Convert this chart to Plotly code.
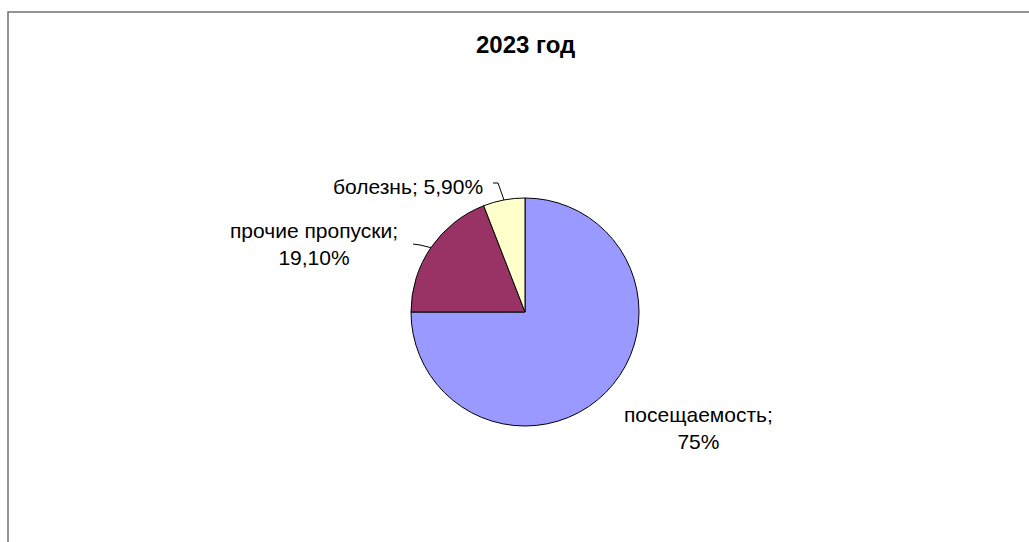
import math
import plotly.graph_objects as go

# ---- data ----
title_text = "2023 год"
labels = ["посещаемость", "прочие пропуски", "болезнь"]
values = [75, 19.1, 5.9]
value_text = ["75%", "19,10%", "5,90%"]
colors = ["#9999FF", "#993366", "#FFFFCC"]

# ---- layout constants (pixels) ----
W, H = 1029, 542
CX, CY, R = 525, 312, 114
FONT = "Liberation Sans, Arial, sans-serif"


def px(x):
    return x / W


def py(y):
    return 1 - y / H


fig = go.Figure(
    go.Pie(
        labels=labels,
        values=values,
        sort=False,
        direction="clockwise",
        rotation=0,
        marker=dict(colors=colors, line=dict(color="#000000", width=1)),
        textinfo="none",
        hoverinfo="label+percent",
        showlegend=False,
        domain=dict(x=[px(CX - R), px(CX + R)], y=[py(CY + R), py(CY - R)]),
    )
)

# edge point at mid angle of each slice (pixel coords)
total = sum(values)
mid_pts = []
cum = 0
for v in values:
    th = 2 * math.pi * (cum + v / 2) / total
    mid_pts.append((CX + R * math.sin(th), CY - R * math.cos(th)))
    cum += v

# label placements: (center x, center y, two-line?)
label_pos = {
    0: (698, 428, True),
    1: (314, 244, True),
    2: (408, 186, False),
}

annotations = []
for i, (x, y, two) in label_pos.items():
    if two:
        txt = f"{labels[i]};<br>{value_text[i]}"
    else:
        txt = f"{labels[i]}; {value_text[i]}"
    annotations.append(
        dict(
            x=px(x), y=py(y), xref="paper", yref="paper",
            text=txt, showarrow=False, xanchor="center", yanchor="middle",
            font=dict(family=FONT, size=21, color="#000000"),
            align="center",
        )
    )

annotations.append(
    dict(
        x=px(525), y=py(45), xref="paper", yref="paper",
        text=f"<b>{title_text}</b>", showarrow=False,
        xanchor="center", yanchor="middle",
        font=dict(family=FONT, size=24, color="#000000"),
    )
)

shapes = [
    dict(
        type="rect", xref="paper", yref="paper",
        x0=px(8), x1=1.02, y0=-0.02, y1=py(12),
        line=dict(color="#707070", width=1.5), fillcolor="rgba(0,0,0,0)",
    )
]

# leader lines
ex, ey = mid_pts[2]
shapes.append(dict(
    type="path", xref="paper", yref="paper",
    path=f"M {px(493)},{py(183)} L {px(498)},{py(183)} L {px(ex)},{py(ey)}",
    line=dict(color="#000000", width=1),
))
ex, ey = mid_pts[1]
shapes.append(dict(
    type="path", xref="paper", yref="paper",
    path=f"M {px(413)},{py(244)} L {px(420)},{py(245)} L {px(ex)},{py(ey)}",
    line=dict(color="#000000", width=1),
))

fig.update_layout(
    width=W, height=H,
    margin=dict(l=0, r=0, t=0, b=0),
    paper_bgcolor="#FFFFFF",
    plot_bgcolor="#FFFFFF",
    annotations=annotations,
    shapes=shapes,
)

fig.write_html(
    "out.html",
    config={"displayModeBar": False},
    post_script="document.body.style.margin='0';document.body.style.overflow='hidden';",
)
